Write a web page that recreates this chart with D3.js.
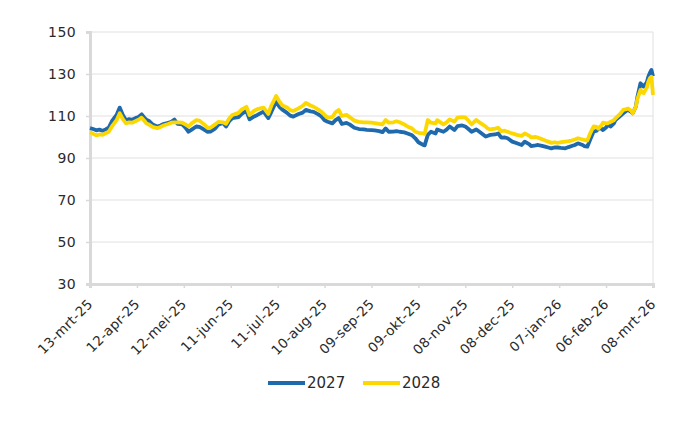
<!DOCTYPE html>
<html>
<head>
<meta charset="utf-8">
<script src="https://cdn.jsdelivr.net/npm/d3@7"></script>
<style>
    body { margin: 0; background: #fff; }
    text { font-family: "DejaVu Sans", Verdana, sans-serif; fill: #2a2a2a; }
</style>
</head>
<body>
<svg id="chart" width="700" height="430"></svg>
<script>
var dates = [
    '2025-03-13','2025-03-15','2025-03-17','2025-03-19','2025-03-21','2025-03-23','2025-03-25','2025-03-27',
    '2025-03-30','2025-04-01','2025-04-03','2025-04-05','2025-04-07','2025-04-09','2025-04-11','2025-04-13',
    '2025-04-15','2025-04-17','2025-04-18','2025-04-20','2025-04-22','2025-04-25','2025-04-27','2025-04-29',
    '2025-05-02','2025-05-04','2025-05-06','2025-05-08','2025-05-11','2025-05-13','2025-05-15','2025-05-17',
    '2025-05-20','2025-05-22','2025-05-25','2025-05-27','2025-05-29','2025-06-01','2025-06-03','2025-06-06',
    '2025-06-08','2025-06-10','2025-06-12',
    '2025-06-16','2025-06-18','2025-06-21','2025-06-23','2025-06-26','2025-06-28','2025-07-02','2025-07-05',
    '2025-07-07','2025-07-10','2025-07-12','2025-07-14','2025-07-17','2025-07-19','2025-07-21','2025-07-24',
    '2025-07-27','2025-07-29','2025-08-01','2025-08-03','2025-08-06','2025-08-08','2025-08-10','2025-08-12',
    '2025-08-15','2025-08-17','2025-08-19','2025-08-21','2025-08-24','2025-08-26','2025-08-29','2025-09-01',
    '2025-09-04','2025-09-06','2025-09-09',
    '2025-09-11','2025-09-14','2025-09-16','2025-09-18','2025-09-20','2025-09-23','2025-09-25','2025-09-27',
    '2025-09-30','2025-10-02','2025-10-05','2025-10-07','2025-10-09','2025-10-12','2025-10-13','2025-10-15',
    '2025-10-17','2025-10-20','2025-10-21','2025-10-25','2025-10-27','2025-10-29','2025-11-01','2025-11-03',
    '2025-11-06','2025-11-08','2025-11-10','2025-11-12','2025-11-15','2025-11-17','2025-11-21','2025-11-22',
    '2025-11-24','2025-11-27','2025-11-29','2025-12-01','2025-12-03','2025-12-05','2025-12-08',
    '2025-12-11','2025-12-14','2025-12-16','2025-12-19','2025-12-20','2025-12-23','2025-12-24','2025-12-27',
    '2025-12-29','2025-12-31','2026-01-02','2026-01-04','2026-01-06','2026-01-08','2026-01-11','2026-01-13',
    '2026-01-15','2026-01-17','2026-01-19','2026-01-22','2026-01-23','2026-01-25','2026-01-27','2026-01-29',
    '2026-01-31','2026-02-01','2026-02-03','2026-02-04','2026-02-06','2026-02-07','2026-02-09','2026-02-11',
    '2026-02-12','2026-02-15','2026-02-17','2026-02-19','2026-02-20','2026-02-22','2026-02-23','2026-02-25',
    '2026-02-26','2026-02-28','2026-03-02','2026-03-04','2026-03-05','2026-03-06','2026-03-07','2026-03-08'
];

var values2027 = [
    104.2,103.8,103.2,103.5,103.0,103.6,104.5,107.5,110.5,114.0,110.5,108.0,108.5,108.2,109.0,109.5,
    110.8,109.0,108.3,107.5,106.0,105.0,105.5,106.2,106.8,107.2,108.3,106.2,106.0,104.5,102.5,103.5,
    105.0,104.8,103.5,102.5,102.6,104.0,105.8,106.7,105.0,107.5,109.0,
    109.5,111.0,112.4,108.4,109.8,110.5,112.1,109.0,112.0,116.8,114.5,113.0,111.5,110.2,109.7,110.8,
    111.6,112.9,112.2,112.0,110.8,109.8,108.0,107.3,106.5,108.0,109.0,106.2,106.7,106.0,104.4,103.8,
    103.6,103.4,103.3,
    103.2,102.8,102.3,104.1,102.5,102.6,102.8,102.5,102.2,101.7,100.8,99.4,97.5,96.2,96.0,101.0,
    102.5,101.7,103.6,102.5,103.5,105.0,103.3,105.2,105.5,105.0,103.8,102.5,103.6,102.5,100.2,100.5,
    101.0,101.2,101.7,99.7,99.8,99.4,97.8,
    97.0,96.2,97.8,96.5,95.7,96.0,96.2,95.8,95.4,95.0,94.6,95.0,95.0,94.8,94.6,95.2,
    95.7,96.2,97.0,96.2,95.7,95.4,99.0,102.5,103.0,104.1,104.0,103.3,104.5,105.7,105.0,106.5,
    108.1,110.0,111.3,112.5,112.9,112.0,111.3,114.4,119.0,125.6,124.0,126.0,128.7,130.5,131.9,129.0
];

var values2028 = [
    102.3,101.5,100.8,101.2,101.0,101.8,102.5,105.0,108.0,111.3,108.5,106.5,107.0,106.8,107.5,108.2,
    109.2,107.5,106.5,105.8,104.8,104.2,104.8,105.5,106.2,106.8,107.0,107.0,106.8,106.0,105.0,106.5,
    108.0,107.8,106.0,104.5,104.4,106.0,107.2,107.0,106.3,108.8,110.5,
    111.5,113.0,114.4,110.5,112.5,113.3,114.0,111.0,115.0,119.5,117.0,115.0,114.0,112.8,112.4,113.5,
    114.8,116.2,115.0,114.4,113.0,112.0,110.5,109.2,109.5,111.8,112.9,110.0,110.5,109.5,107.8,107.2,
    107.0,107.0,106.8,
    106.6,106.2,106.0,108.1,106.8,107.0,107.5,107.0,106.0,105.0,104.0,102.5,102.0,101.7,101.5,108.1,
    106.8,106.5,108.0,106.0,107.0,108.4,107.3,109.2,109.5,109.3,107.8,106.0,108.1,107.0,105.0,104.2,
    103.6,104.0,104.4,102.8,103.0,102.5,101.7,
    101.0,100.5,101.7,100.5,99.8,100.0,99.8,99.0,98.3,97.8,97.2,97.5,97.2,97.5,97.8,98.0,
    98.3,98.8,99.4,98.8,98.6,98.3,102.0,105.0,104.8,104.0,105.5,106.8,106.5,106.5,107.3,108.0,
    108.9,111.0,112.9,113.3,113.6,112.5,111.3,114.4,118.0,122.4,120.8,123.5,126.3,128.0,128.7,120.0
];

var seriesNames = ['2027', '2028'];
var seriesColors = ['#1f69ad', '#fdd800'];
var yTicks = [30, 50, 70, 90, 110, 130, 150];
var tickDates = [
    '2025-03-13','2025-04-12','2025-05-12','2025-06-11','2025-07-11','2025-08-10','2025-09-09',
    '2025-10-09','2025-11-08','2025-12-08','2026-01-07','2026-02-06','2026-03-08'
];
var monthNames = ['jan','feb','mrt','apr','mei','jun','jul','aug','sep','okt','nov','dec'];

var margin = {top: 32, right: 47, bottom: 146, left: 90};
var width = 700 - margin.left - margin.right;
var height = 430 - margin.top - margin.bottom;

var parse = d3.utcParse('%Y-%m-%d');
var fmtLabel = function(d){
    return d3.utcFormat('%d')(d) + '-' + monthNames[d.getUTCMonth()] + '-' + d3.utcFormat('%y')(d);
};

var svg = d3.select('#chart');
var g = svg.append('g').attr('transform', 'translate(' + margin.left + ',' + margin.top + ')');

var x = d3.scaleUtc()
    .domain([parse(tickDates[0]), parse(tickDates[tickDates.length - 1])])
    .range([0, width]);
var y = d3.scaleLinear().domain([30, 150]).range([height, 0]);

// gridlines
g.append('g')
    .selectAll('line')
    .data(yTicks.slice(1))
    .enter().append('line')
    .attr('x1', 0).attr('x2', width)
    .attr('y1', function(d){ return y(d); })
    .attr('y2', function(d){ return y(d); })
    .attr('stroke', '#e0e0e0').attr('stroke-width', 1);

g.append('line')
    .attr('x1', width).attr('x2', width)
    .attr('y1', 0).attr('y2', height)
    .attr('stroke', '#e0e0e0').attr('stroke-width', 1);

var yAxis = g.append('g')
    .call(d3.axisLeft(y).tickValues(yTicks).tickSize(4).tickPadding(10));
yAxis.select('.domain').attr('stroke', '#d9d9d9').attr('stroke-width', 3);
yAxis.selectAll('.tick line').attr('stroke', '#d9d9d9').attr('stroke-width', 1.5);
yAxis.selectAll('text')
    .style('font-size', '14px')
    .style('letter-spacing', '0.4px')
    .attr('fill', '#2a2a2a');

var xAxis = g.append('g')
    .attr('transform', 'translate(0,' + height + ')')
    .call(d3.axisBottom(x).tickValues(tickDates.map(parse)).tickSize(4).tickFormat(fmtLabel));
xAxis.select('.domain').attr('stroke', '#d9d9d9').attr('stroke-width', 3);
xAxis.selectAll('.tick line').attr('stroke', '#d9d9d9').attr('stroke-width', 1.5);
xAxis.selectAll('text')
    .style('font-size', '13.5px')
    .style('letter-spacing', '0.3px')
    .attr('fill', '#2a2a2a')
    .attr('text-anchor', 'end')
    .attr('x', 0).attr('y', 0).attr('dy', 0)
    .attr('transform', 'translate(3,21) rotate(-45)');

var line = d3.line()
    .x(function(d){ return x(d.date); })
    .y(function(d){ return y(d.value); });

[values2027, values2028].forEach(function(vals, i){
    var pts = dates.map(function(d, j){ return {date: parse(d), value: vals[j]}; });
    g.append('path')
        .datum(pts)
        .attr('fill', 'none')
        .attr('stroke', seriesColors[i])
        .attr('stroke-width', 3.8)
        .attr('stroke-linejoin', 'round')
        .attr('d', line);
});

// legend
var legend = svg.append('g').attr('transform', 'translate(268,383)');
seriesNames.forEach(function(name, i){
    var lg = legend.append('g').attr('transform', 'translate(' + (i * 95) + ',0)');
    lg.append('line')
        .attr('x1', 0).attr('x2', 37)
        .attr('stroke', seriesColors[i]).attr('stroke-width', 4);
    lg.append('text')
        .attr('x', 39).attr('dy', '0.36em')
        .style('font-size', '15px')
        .text(name);
});
</script>
</body>
</html>
